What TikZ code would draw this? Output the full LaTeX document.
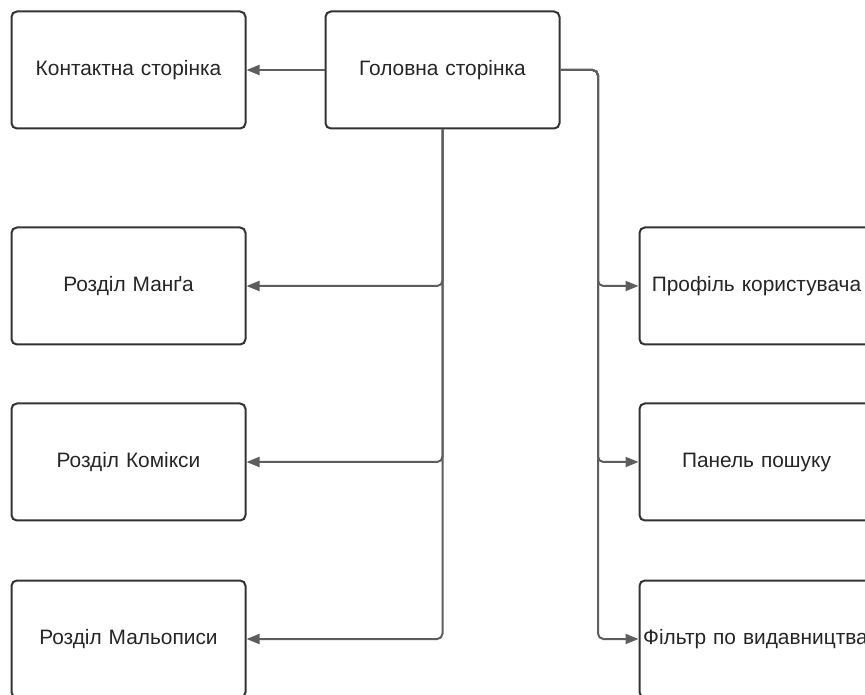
\documentclass[tikz,border=0pt]{standalone}
\usepackage{fontspec}
\setmainfont{Liberation Sans}
\usetikzlibrary{arrows.meta}
\definecolor{boxline}{HTML}{333333}
\definecolor{linkgray}{HTML}{5E5E5E}
\begin{document}
\begin{tikzpicture}[x=0.75pt,y=-0.75pt,
    page/.style={draw=boxline,line width=1.5pt,rounded corners=4pt,
      minimum width=175.5pt,minimum height=87.75pt,inner xsep=2.75pt,
      text width=170pt,align=center,
      font=\fontsize{15.65}{18}\selectfont,text=black!85},
    link/.style={draw=linkgray,line width=1.5pt,rounded corners=4pt,
      -{Triangle[length=9.75pt,width=7.5pt]}}]
      \useasboundingbox (0,0) rectangle (865,695);
      \clip (0,0) rectangle (865,695);
      \fill[white] (0,0) rectangle (865,695);
      \node[page] (contact) at (128.5,70) {Контактна сторінка};
      \node[page] (home) at (442.5,70) {Головна сторінка};
      \node[page] (manga) at (128.5,286) {Розділ Манґа};
      \node[page] (comics) at (128.5,462) {Розділ Комікси};
      \node[page] (malo) at (128.5,639) {Розділ Мальописи};
      \node[page] (profile) at (756.5,286) {Профіль користувача};
      \node[page] (search) at (756.5,462) {Панель пошуку};
      \node[page] (filter) at (756.5,639) {\mbox{Фільтр по видавництвам}};
      \coordinate (fork) at (598,70);
      \draw[link] (home) -- (contact);
      \foreach \t in {manga,comics,malo}
        \draw[link] (home.south) |- (\t);
      \foreach \t in {profile,search,filter}
        \draw[link] (home.east) -- (fork) |- (\t);
    \end{tikzpicture}
\end{document}
